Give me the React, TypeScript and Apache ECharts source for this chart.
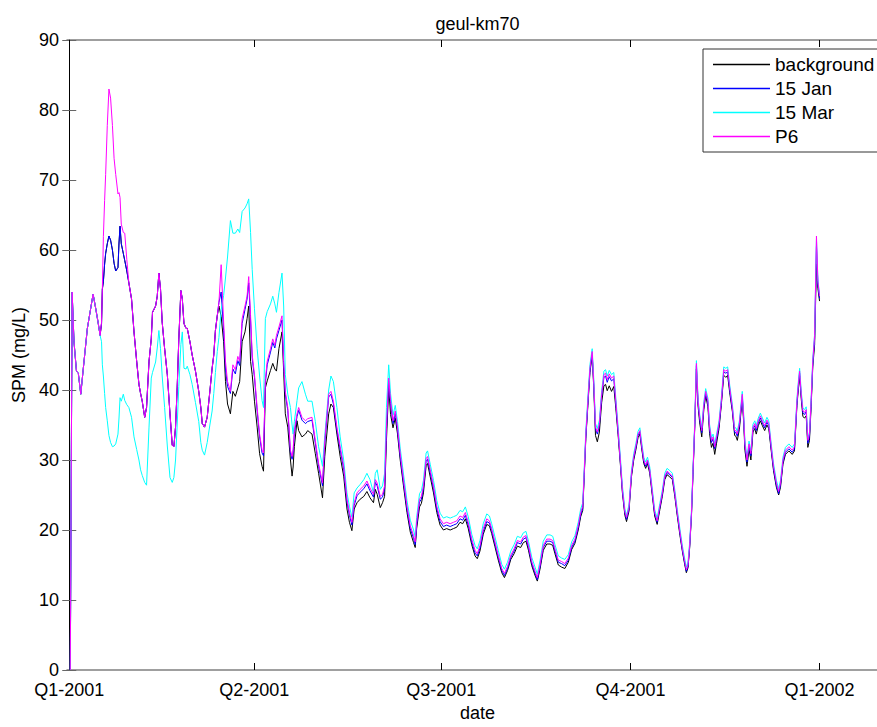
import React, { useEffect, useRef } from "react";
import * as echarts from "echarts";

// day offset from 1 Jan 2001
const days = [
  0.5, 1.4, 2.3, 3.5, 4.4, 5.6, 6.7, 8.8, 10.4, 11.6, 12.9, 14.0, 15.0,
  15.7, 16.1, 16.6, 17.2, 17.7, 18.5, 19.3, 20.1, 21.0, 21.8, 22.6, 23.7, 24.2, 24.7, 25.3, 26.3, 27.0, 28.0, 29.0,
  30.3, 31.5, 32.8, 33.9, 34.7, 35.5, 36.7, 37.6, 38.8, 39.9, 40.5, 42.0, 42.8, 43.6, 44.4, 45.2, 46.4, 47.7, 49.0,
  50.1, 50.9, 51.7, 52.5, 53.3, 54.3, 55.0, 55.8, 56.8, 57.4, 58.7, 59.8, 61.4, 63.0, 64.0, 64.7, 65.8, 67.1, 68.4,
  69.5, 70.3, 71.1, 72.0, 72.8, 73.9, 75.1, 76.0, 77.0, 78.4, 79.6, 80.8, 82.0, 82.9, 84.1, 85.5, 86.5, 87.3, 88.2,
  89.0, 90.1, 91.4, 92.6, 93.8, 94.5, 95.4, 96.3, 97.9, 99.0, 100.0, 100.8, 102.0, 103.5, 104.3, 105.1, 106.3, 107.6,
  108.4, 108.9, 109.5, 110.8, 111.6, 113.2, 114.9, 116.0, 118.1, 119.7, 121.3, 123.2, 124.3, 126.2, 127.3, 128.5,
  130.2, 131.8, 133.5, 135.1, 136.3, 137.5, 138.6, 140.0, 141.5, 143.3, 144.8, 146.3, 148.0, 148.9, 149.8, 151.3,
  152.4, 153.4, 154.3, 155.4, 156.3, 157.5, 158.6, 159.7, 161.0, 162.6, 164.3, 165.9, 167.5, 168.3, 169.0, 170.4,
  171.3, 172.3, 173.6, 174.3, 175.6, 177.2, 178.8, 180.4, 182.0, 183.6, 185.3, 186.9, 188.5, 190.1, 191.4, 192.7,
  194.1, 195.8, 197.4, 198.5, 199.8, 201.4, 203.1, 204.4, 205.5, 207.1, 208.7, 210.4, 211.7, 213.2, 214.8, 216.4,
  218.0, 219.6, 220.9, 222.2, 223.4, 225.0, 226.6, 227.7, 229.0, 230.6, 232.3, 233.9, 235.2, 236.3, 237.9, 239.5,
  241.1, 242.8, 244.4, 246.0, 247.6, 248.8, 249.8, 250.5, 251.3, 252.3, 253.3, 254.4, 255.2, 256.0, 256.9, 257.9,
  259.0, 260.1, 260.9, 261.7, 262.7, 263.8, 264.9, 265.9, 267.0, 268.2, 269.1, 270.3, 271.1, 272.3, 273.5, 274.6,
  275.6, 276.7, 277.6, 278.4, 279.5, 280.4, 281.3, 282.4, 283.7, 284.8, 286.0, 287.3, 288.5, 289.7, 290.8, 292.1,
  293.4, 294.6, 295.8, 297.1, 298.3, 299.4, 300.2, 301.0, 301.8, 302.7, 303.4, 304.3, 305.1, 305.9, 306.7, 307.7,
  308.7, 309.6, 310.7, 311.5, 312.4, 313.2, 314.0, 314.9, 316.1, 317.2, 318.4, 319.4, 320.3, 321.3, 322.6, 323.7,
  324.3, 325.0, 326.0, 327.4, 328.1, 328.7, 329.7, 330.7, 331.6, 332.6, 333.5, 334.2, 335.2, 336.2, 337.2, 338.3,
  339.4, 340.3, 341.5, 342.6, 344.0, 345.1, 346.0, 347.2, 348.4, 350.1, 351.7, 352.8, 354.0, 354.8, 355.3, 356.1,
  356.9, 357.7, 358.5, 359.3, 360.1, 360.9, 361.7, 362.6, 363.5, 364.2, 365.0,
];

const background = [
  0, 54, 46.9, 42.7, 42.4, 39.4, 42.7, 48.8, 51.6, 53.7, 51.6, 49.7, 47.8,
  49.5, 54.4, 55.5, 58.0, 59.5, 60.9, 62.0, 61.4, 60.0, 58.1, 57.0, 57.5, 61.0, 63.4, 60.9, 59.5, 58.5, 57.0, 55.3,
  53.0, 48.3, 44.1, 40.8, 39.5, 38.4, 36.1, 37.5, 44.1, 47.3, 51.1, 52.0, 53.4, 56.7, 54.4, 49.7, 45.9, 42.2, 36.6,
  32.1, 31.9, 34.7, 40.3, 47.3, 54.2, 53.0, 49.5, 48.8, 48.8, 46.9, 45.0, 42.7, 39.8, 37.5, 35.2, 34.7, 36.1, 39.8,
  43.1, 45.0, 48.5, 50.6, 52.0, 50.5, 46.9, 41.2, 38.0, 36.6, 39.8, 39.1, 40.3, 41.2, 46.9, 48.3, 50.2, 52.0, 44.1,
  42.2, 38.4, 34.7, 30.9, 29.1, 28.4, 40.3, 41.3, 42.8, 43.8, 43.0, 42.7, 45.9, 48.3, 42.7, 36.6, 34.7, 30.0,
  27.7, 29.0, 31.9, 35.6, 34.2, 33.3, 33.7, 34.2, 33.7, 30.9, 28.1, 24.6, 30.5, 36.6, 38.0, 37.5,
  33.7, 30.5, 27.7, 23.0, 21.1, 19.9, 23.0, 23.9, 24.4, 24.8, 25.5, 24.6, 23.9, 25.8, 25.1, 23.2,
  23.9, 24.8, 32.8, 40.3, 36.5, 34.6, 36.0, 33.7, 30.0, 26.3, 22.5, 19.7, 18.2, 17.5, 20.2, 23.3,
  23.8, 25.3, 29.2, 29.5, 27.6, 25.3, 22.5, 20.7, 20.0, 20.2, 20.0, 20.2, 20.4, 21.1, 20.9, 21.6,
  20.2, 17.9, 16.3, 15.9, 17.0, 19.4, 20.8, 20.6, 19.5, 17.6, 15.7, 13.9, 13.2, 14.2, 15.8, 16.6,
  17.7, 17.5, 18.2, 18.4, 17.1, 14.9, 13.5, 12.7, 14.4, 17.1, 18.0, 18.0, 17.8, 16.6, 15.0, 14.7,
  14.5, 15.4, 17.2, 18.1, 20.0, 21.9, 22.8, 27.5, 33.1, 37.8, 42.5, 45.0, 40.0, 33.5, 32.6, 34.0,
  38.2, 40.6, 40.8, 39.9, 40.6, 39.8, 40.5, 37.4, 33.6, 29.0, 25.3, 22.1, 21.2, 22.7, 27.6, 30.0,
  31.4, 33.2, 33.7, 31.8, 29.5, 28.8, 29.5, 28.1, 24.8, 22.0, 20.8, 22.9, 24.8, 27.2, 27.9, 27.6,
  27.2, 24.8, 22.0, 19.2, 16.9, 15.1, 13.9, 14.6, 17.4, 22.1, 27.7, 34.7, 43.0, 37.7, 35.3, 33.3,
  37.2, 39.2, 37.6, 33.8, 31.8, 32.4, 30.8, 32.4, 34.5, 37.8, 42.1, 41.8, 42.1, 39.6, 36.9, 33.5,
  33.4, 32.8, 34.4, 38.8, 35.3, 31.4, 29.1, 31.5, 30.0, 34.0, 34.5, 33.7, 34.9, 35.6, 34.9, 34.2,
  35.0, 34.5, 31.3, 28.5, 26.1, 25.0, 26.1, 29.4, 30.8, 31.3, 30.8, 31.3, 37.8, 40.5, 42.0, 38.7,
  36.2, 36.0, 36.3, 31.8, 32.8, 37.6, 43.3, 46.5, 58.0, 54.5, 52.7,
];

const jan15 = [
  0, 54, 46.9, 42.7, 42.4, 39.4, 42.7, 48.8, 51.6, 53.7, 51.6, 49.7, 47.8,
  49.5, 54.4, 55.5, 58.0, 59.5, 60.9, 62.0, 61.4, 60.0, 58.1, 57.0, 57.5, 61.0, 63.4, 60.9, 59.5, 58.5, 57.0, 55.3,
  53.0, 48.3, 44.1, 40.8, 39.5, 38.4, 36.1, 37.5, 44.1, 47.3, 51.1, 52.0, 53.4, 56.7, 54.4, 49.7, 45.9, 42.2, 36.6,
  32.1, 31.9, 34.7, 40.3, 47.3, 54.2, 53.0, 49.5, 48.8, 48.8, 46.9, 45.0, 42.7, 39.8, 37.5, 35.2, 34.7, 36.1, 39.8,
  43.1, 45.0, 48.5, 50.6, 52.5, 54.0, 48.5, 43.0, 40.5, 39.5, 43.0, 42.3, 44.2, 43.5, 49.5, 51.5, 53.0, 55.3, 50.0,
  44.5, 41.8, 37.0, 33.3, 31.0, 30.6, 41.0, 43.6, 45.4, 46.8, 46.0, 47.3, 48.5, 50.0, 43.7, 39.4, 37.1, 31.0,
  30.1, 31.0, 33.8, 36.2, 37.1, 35.7, 35.2, 35.5, 35.7, 32.4, 29.1, 26.3, 32.4, 39.0, 39.4, 38.0,
  34.3, 31.5, 28.7, 24.0, 22.1, 20.7, 23.5, 24.9, 25.4, 25.9, 26.6, 25.6, 24.7, 26.8, 26.3, 24.4,
  24.7, 25.9, 34.3, 41.3, 38.1, 35.2, 36.6, 34.3, 30.5, 26.8, 23.0, 20.2, 18.8, 17.9, 20.7, 24.0,
  24.4, 25.9, 29.8, 30.1, 28.2, 25.9, 23.0, 21.2, 20.5, 20.7, 20.5, 20.7, 20.9, 21.6, 21.4, 22.1,
  20.7, 18.3, 16.7, 16.3, 17.4, 19.8, 21.2, 21.0, 19.9, 18.0, 16.1, 14.2, 13.5, 14.5, 16.1, 17.0,
  18.2, 18.0, 18.7, 18.9, 17.5, 15.2, 13.8, 12.9, 14.7, 17.5, 18.4, 18.4, 18.2, 17.0, 15.4, 15.2,
  14.9, 15.7, 17.5, 18.4, 20.3, 22.2, 23.1, 27.8, 33.4, 38.1, 42.8, 45.2, 40.5, 34.4, 33.7, 34.9,
  39.1, 41.8, 42.0, 41.1, 41.9, 41.3, 41.6, 38.0, 34.0, 29.3, 25.6, 22.4, 21.5, 23.0, 27.9, 30.3,
  31.7, 33.5, 34.0, 32.1, 29.8, 29.1, 29.8, 28.4, 25.1, 22.3, 21.1, 23.2, 25.1, 27.5, 28.2, 27.9,
  27.5, 25.1, 22.3, 19.5, 17.1, 15.3, 14.1, 14.8, 17.6, 22.3, 27.9, 35.0, 43.5, 38.1, 35.8, 33.9,
  37.6, 39.5, 38.1, 34.4, 32.5, 33.0, 31.6, 33.0, 34.9, 38.1, 42.6, 42.4, 42.6, 40.0, 37.2, 33.9,
  33.9, 33.4, 34.9, 39.1, 35.8, 32.0, 29.7, 32.0, 30.6, 34.4, 34.9, 34.2, 35.3, 36.0, 35.3, 34.6,
  35.4, 34.9, 31.6, 28.8, 26.4, 25.2, 26.4, 29.7, 31.1, 31.6, 31.1, 31.6, 38.1, 40.9, 42.4, 39.1,
  36.7, 36.5, 36.9, 32.4, 33.3, 38.0, 43.7, 47.3, 60.5, 55.0, 53.1,
];

const mar15 = [
  0, 54, 46.9, 42.7, 42.4, 39.4, 42.7, 48.8, 51.6, 53.7, 51.6, 49.7, 47.8,
  46.9, 43.6, 42.0, 39.5, 37.5, 35.6, 33.5, 32.5, 31.9, 32.0, 32.3, 33.7, 36.0, 38.9, 38.4, 39.4, 38.5, 37.9, 37.5,
  36.1, 33.3, 31.5, 30.0, 28.6, 27.8, 26.8, 26.4, 34.7, 41.7, 42.5, 44.0, 46.0, 48.5, 45.9, 42.0, 37.5, 32.0, 27.5,
  26.8, 27.5, 30.0, 35.0, 40.5, 46.5, 48.3, 43.1, 43.0, 43.4, 42.2, 40.8, 38.2, 35.5, 32.5, 31.4, 30.7, 32.5, 35.0,
  37.0, 39.5, 42.5, 45.5, 47.5, 51.5, 53.5, 56.0, 59.0, 64.2, 62.4, 62.4, 63.0, 62.5, 65.5, 66.0, 66.6, 67.3, 62.5,
  57.2, 51.6, 45.9, 42.0, 38.5, 37.5, 50.2, 51.2, 52.3, 53.4, 52.3, 51.1, 53.9, 56.7, 52.0, 42.2, 39.4, 37.5,
  35.0, 33.7, 35.5, 38.5, 40.3, 41.2, 39.4, 38.4, 38.4, 35.5, 31.9, 29.1, 33.5, 40.0, 42.0, 41.2,
  37.5, 33.3, 30.0, 25.3, 23.4, 21.8, 25.3, 26.0, 26.5, 27.2, 28.1, 27.2, 25.3, 28.1, 28.6, 25.8,
  26.3, 28.1, 37.5, 43.6, 39.5, 36.4, 37.8, 35.5, 31.7, 28.0, 24.2, 21.4, 20.0, 19.0, 21.8, 25.2,
  25.6, 27.1, 31.0, 31.3, 29.4, 27.1, 24.2, 22.4, 21.7, 21.9, 21.7, 21.9, 22.1, 22.8, 22.6, 23.3,
  21.9, 19.4, 17.8, 17.3, 18.5, 20.9, 22.3, 22.0, 20.9, 19.0, 17.1, 15.1, 14.4, 15.4, 17.0, 17.9,
  19.1, 18.9, 19.6, 19.8, 18.4, 16.1, 14.7, 13.7, 15.6, 18.4, 19.3, 19.3, 19.1, 17.9, 16.3, 16.0,
  15.8, 16.5, 18.3, 19.2, 21.1, 23.0, 23.9, 28.6, 34.2, 38.9, 43.6, 45.9, 41.3, 35.2, 34.5, 35.7,
  39.9, 42.7, 42.9, 42.0, 42.8, 42.2, 42.5, 38.8, 34.8, 30.0, 26.3, 23.0, 22.1, 23.6, 28.5, 30.9,
  32.3, 34.1, 34.6, 32.7, 30.4, 29.7, 30.4, 29.0, 25.7, 22.9, 21.7, 23.8, 25.7, 28.1, 28.8, 28.5,
  28.1, 25.7, 22.9, 20.1, 17.7, 15.9, 14.7, 15.4, 18.2, 22.9, 28.5, 35.6, 44.2, 38.8, 36.5, 34.6,
  38.3, 40.2, 38.8, 35.1, 33.2, 33.7, 32.3, 33.7, 35.6, 38.8, 43.3, 43.1, 43.3, 40.7, 37.9, 34.6,
  34.6, 34.1, 35.6, 39.8, 36.5, 32.7, 30.4, 32.7, 31.3, 35.1, 35.6, 34.9, 36.0, 36.7, 36.0, 35.3,
  36.1, 35.6, 32.3, 29.5, 27.1, 25.9, 27.1, 30.4, 31.8, 32.3, 31.8, 32.3, 38.8, 41.6, 43.1, 39.8,
  37.4, 37.2, 37.6, 33.1, 34.0, 38.7, 44.4, 48.0, 61.5, 55.8, 53.6,
];

const p6 = [
  0, 54, 46.9, 42.7, 42.4, 39.4, 42.7, 48.8, 51.6, 53.7, 51.6, 49.7, 47.8,
  49.7, 54.4, 61.9, 67.1, 70.8, 77.8, 83.0, 81.7, 77.8, 73.1, 70.8, 68.0, 68.2, 67.5, 63.7, 62.5, 62.4, 58.6, 55.3,
  53.0, 48.3, 44.1, 40.8, 39.5, 38.4, 36.1, 37.5, 44.1, 47.3, 51.1, 52.0, 53.4, 56.7, 54.4, 49.7, 45.9, 42.2, 36.6,
  32.1, 31.9, 34.7, 40.3, 47.3, 54.2, 53.0, 49.5, 48.8, 48.8, 46.9, 45.0, 42.7, 39.8, 37.5, 35.2, 34.7, 36.1, 39.8,
  43.1, 45.0, 48.5, 50.6, 52.5, 57.9, 49.7, 44.1, 41.2, 39.8, 43.6, 42.9, 44.8, 44.1, 50.2, 52.0, 53.4, 56.2, 50.6,
  45.0, 42.2, 37.5, 33.7, 31.4, 31.0, 41.5, 44.1, 45.9, 47.3, 46.4, 47.8, 49.0, 50.6, 44.1, 39.8, 37.5, 31.4,
  30.5, 31.5, 34.2, 36.6, 37.5, 36.1, 35.6, 35.9, 36.1, 32.8, 29.5, 26.7, 32.8, 39.4, 39.8, 38.4,
  34.7, 31.9, 29.1, 24.4, 22.5, 21.1, 23.9, 25.3, 25.8, 26.3, 27.0, 26.0, 25.1, 27.2, 26.7, 24.8,
  25.1, 26.3, 34.7, 41.7, 38.5, 35.6, 37.0, 34.7, 30.9, 27.2, 23.4, 20.6, 19.2, 18.3, 21.1, 24.4,
  24.8, 26.3, 30.2, 30.5, 28.6, 26.3, 23.4, 21.6, 20.9, 21.1, 20.9, 21.1, 21.3, 22.0, 21.8, 22.5,
  21.1, 18.7, 17.1, 16.6, 17.8, 20.2, 21.6, 21.3, 20.2, 18.3, 16.4, 14.5, 13.8, 14.8, 16.4, 17.3,
  18.5, 18.3, 19.0, 19.2, 17.8, 15.5, 14.1, 13.2, 15.0, 17.8, 18.7, 18.7, 18.5, 17.3, 15.7, 15.5,
  15.2, 16.0, 17.8, 18.7, 20.6, 22.5, 23.4, 28.1, 33.7, 38.4, 43.1, 45.5, 40.8, 34.7, 34.0, 35.2,
  39.4, 42.2, 42.4, 41.5, 42.3, 41.7, 42.0, 38.4, 34.2, 29.5, 25.8, 22.6, 21.8, 23.2, 28.1, 30.5,
  31.9, 33.7, 34.2, 32.3, 30.0, 29.3, 30.0, 28.6, 25.3, 22.5, 21.3, 23.4, 25.3, 27.7, 28.4, 28.1,
  27.7, 25.3, 22.5, 19.7, 17.3, 15.5, 14.3, 15.0, 17.8, 22.5, 28.1, 35.2, 43.8, 38.4, 36.1, 34.2,
  37.9, 39.8, 38.4, 34.7, 32.8, 33.3, 31.9, 33.3, 35.2, 38.4, 42.9, 42.7, 42.9, 40.3, 37.5, 34.2,
  34.2, 33.7, 35.2, 39.4, 36.1, 32.3, 30.0, 32.3, 30.9, 34.7, 35.2, 34.5, 35.6, 36.3, 35.6, 34.9,
  35.7, 35.2, 31.9, 29.1, 26.7, 25.5, 26.7, 30.0, 31.4, 31.9, 31.4, 31.9, 38.4, 41.2, 42.7, 39.4,
  37.0, 36.8, 37.2, 32.8, 33.7, 38.4, 44.1, 47.8, 62.0, 55.5, 53.4,
];

const seriesNames = ["background", "15 Jan", "15 Mar", "P6"];
const seriesColors = ["#000000", "#0000ff", "#00ffff", "#ff00ff"];
const xTickDays = [0, 90, 181, 273, 365];
const xTickLabels = ["Q1-2001", "Q2-2001", "Q3-2001", "Q4-2001", "Q1-2002"];

const FONT = "'Liberation Sans', Arial, Helvetica, sans-serif";

export default function App() {
  const ref = useRef<HTMLDivElement>(null);

  useEffect(() => {
    if (!ref.current) return;
    const chart = echarts.init(ref.current, undefined, { renderer: "svg" });
    const valueSets = [background, jan15, mar15, p6];

    const tickLabel = (v: number) => {
      const i = xTickDays.findIndex((d) => Math.abs(d - v) < 0.5);
      return i >= 0 ? xTickLabels[i] : "";
    };

    const xCommon = {
      type: "value",
      min: -1.1,
      max: 398.3,
      splitLine: { show: false },
    };

    chart.setOption({
      animation: false,
      backgroundColor: "#ffffff",
      textStyle: { fontFamily: FONT },
      title: {
        text: "geul-km70",
        left: "center",
        top: 10,
        textStyle: { fontSize: 18, fontWeight: "normal", color: "#000", fontFamily: FONT },
      },
      legend: {
        data: seriesNames,
        orient: "vertical",
        left: 703,
        top: 49,
        icon: "rect",
        itemWidth: 57,
        itemHeight: 1.5,
        itemGap: 5,
        padding: [6, 10, 6, 10],
        borderColor: "#333",
        borderWidth: 1,
        backgroundColor: "#fff",
        textStyle: { fontSize: 19, lineHeight: 18, color: "#000", fontFamily: FONT },
      },
      grid: { left: 67, top: 40, right: 67, bottom: 47 },
      xAxis: [
        {
          ...xCommon,
          position: "bottom",
          axisLine: { show: true, onZero: false, lineStyle: { color: "#808080", width: 1.5 } },
          axisTick: { show: true, inside: true, length: 7, customValues: xTickDays, lineStyle: { color: "#000" } },
          axisLabel: {
            show: true,
            customValues: xTickDays,
            formatter: tickLabel,
            fontSize: 18,
            lineHeight: 18,
            color: "#000",
            margin: 11,
            fontFamily: FONT,
          },
          name: "date",
          nameLocation: "middle",
          nameGap: 34,
          nameTextStyle: { fontSize: 18, color: "#000", fontFamily: FONT },
        },
        {
          ...xCommon,
          position: "top",
          axisLine: { show: true, onZero: false, lineStyle: { color: "#808080", width: 1.5 } },
          axisTick: { show: true, inside: true, length: 7, customValues: xTickDays, lineStyle: { color: "#000" } },
          axisLabel: { show: false },
        },
      ],
      yAxis: [
        {
          type: "value",
          min: 0,
          max: 90,
          interval: 10,
          position: "left",
          splitLine: { show: false },
          axisLine: { show: true, lineStyle: { color: "#000", width: 1 } },
          axisTick: { show: true, inside: true, length: 7, lineStyle: { color: "#666" } },
          axisLabel: {
            fontSize: 18,
            lineHeight: 16,
            color: "#000",
            margin: 8,
            fontFamily: FONT,
            verticalAlign: "middle",
            padding: [0, 0, 6, 0],
          },
          name: "SPM (mg/L)",
          nameLocation: "middle",
          nameGap: 31,
          nameTextStyle: { fontSize: 18, color: "#000", fontFamily: FONT },
        },
        {
          type: "value",
          min: 0,
          max: 90,
          interval: 10,
          position: "right",
          splitLine: { show: false },
          axisLine: { show: true, lineStyle: { color: "#000", width: 1 } },
          axisTick: { show: true, inside: true, length: 7, lineStyle: { color: "#666" } },
          axisLabel: { show: false },
        },
      ],
      series: seriesNames.map((name, k) => ({
        name,
        type: "line",
        xAxisIndex: 0,
        yAxisIndex: 0,
        data: days.map((d, i) => [d, valueSets[k][i]]),
        showSymbol: false,
        symbol: "none",
        color: seriesColors[k],
        lineStyle: { color: seriesColors[k], width: 1 },
        z: 2 + k,
      })),
    });

    return () => chart.dispose();
  }, []);

  return (
    <div
      style={{
        position: "fixed",
        left: 0,
        top: 0,
        width: 877,
        height: 727,
        overflow: "hidden",
        background: "#fff",
      }}
    >
      <div ref={ref} style={{ width: 955, height: 727 }} />
    </div>
  );
}
